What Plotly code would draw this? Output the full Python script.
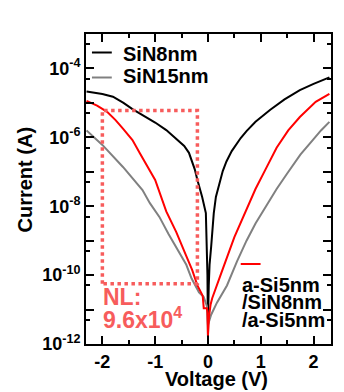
import plotly.graph_objects as go

# ---------------- data ----------------
# SiN8nm (black)
v_sin8 = [-2.3, -2.0, -1.8, -1.6, -1.43, -1.2, -1.0, -0.79, -0.6, -0.45, -0.36, -0.3, -0.25, -0.2,
          -0.11, -0.04, -0.02, -0.01, -0.004, 0.0, 0.005, 0.015, 0.03, 0.06, 0.11, 0.15, 0.24,
          0.28, 0.35, 0.45, 0.62, 0.73, 0.9, 1.18, 1.45, 1.74, 2.0, 2.3]
log_i_sin8 = [-4.67, -4.74, -4.82, -5.0, -5.18, -5.38, -5.57, -5.79, -6.05, -6.25, -6.45, -6.68, -6.93, -7.24,
              -7.73, -8.2, -9.18, -10.0, -11.0, -11.8, -11.0, -10.3, -9.7, -9.18, -8.2, -7.73, -7.24,
              -6.98, -6.7, -6.4, -6.02, -5.82, -5.55, -5.2, -4.9, -4.63, -4.45, -4.26]

# SiN15nm (gray)
v_sin15 = [-2.3, -2.0, -1.61, -1.24, -1.1, -0.92, -0.75, -0.55, -0.41, -0.31, -0.17, -0.08, -0.02,
           0.0, 0.06, 0.17, 0.36, 0.55, 0.73, 0.9, 1.1, 1.3, 1.5, 1.75, 2.0, 2.14, 2.3]
log_i_sin15 = [-5.8, -6.22, -6.86, -7.53, -7.91, -8.31, -8.8, -9.35, -9.7, -10.1, -10.5, -10.64, -10.9,
               -11.45, -11.15, -10.8, -10.3, -9.6, -9.0, -8.5, -8.0, -7.5, -7.05, -6.5, -6.05, -5.8, -5.55]

# a-Si5nm/SiN8nm/a-Si5nm (red)
v_stack = [-2.3, -2.1, -1.91, -1.75, -1.61, -1.43, -1.29, -1.0, -0.79, -0.6, -0.41, -0.3, -0.2,
           -0.13, -0.1, -0.08, -0.02, -0.01, 0.0, 0.02, 0.05, 0.08, 0.16, 0.25, 0.5, 0.7, 0.9,
           1.1, 1.3, 1.52, 1.74, 2.04, 2.3]
log_i_stack = [-4.94, -5.08, -5.26, -5.5, -5.75, -6.08, -6.46, -7.24, -8.15, -8.75, -9.45, -9.85, -10.3,
               -10.53, -10.6, -10.96, -10.96, -11.1, -11.75, -11.2, -10.85, -10.67, -10.35, -9.95, -8.9,
               -8.2, -7.5, -6.9, -6.3, -5.8, -5.41, -4.97, -4.74]

# nonlinearity box (V, log10 I)
nl_v = [-2.0, -0.2]
nl_log_i = [-5.22, -10.25]

y_decades = list(range(-12, -2))
y_label_decades = [-12, -10, -8, -6, -4]
x_ticks = [-2, -1, 0, 1, 2]

# ---------------- figure ----------------
FONT = "Liberation Sans, Arial, sans-serif"
SALMON = "#f75c5c"

fig = go.Figure()

def add_curve(v, logi, color):
    fig.add_trace(go.Scatter(x=v, y=[10 ** p for p in logi], mode="lines",
                             line=dict(color=color, width=2), showlegend=False,
                             hoverinfo="skip"))

add_curve(v_sin8, log_i_sin8, "black")
add_curve(v_sin15, log_i_sin15, "#808080")
add_curve(v_stack, log_i_stack, "#ff0000")

# NL box
bx = [nl_v[0], nl_v[0], nl_v[1], nl_v[1], nl_v[0]]
by = [nl_log_i[1], nl_log_i[0], nl_log_i[0], nl_log_i[1], nl_log_i[1]]
fig.add_trace(go.Scatter(x=bx, y=[10 ** p for p in by], mode="lines",
                         line=dict(color=SALMON, width=3.5, dash="dot"),
                         showlegend=False, hoverinfo="skip"))

# page body adds an 8px margin; compensate so the plot lands where the reference has it
OFF = 8
W, H = 344 - OFF, 392 - OFF
L, R, T, B = 86 - OFF, 11, 34 - OFF, 48
SL, SB = 86, 344            # screen position of the plot's left and bottom edges
pw, ph = 247, 310

def px(x):
    return (x - SL) / pw

def py(y):
    return (SB - y) / ph

shapes = []
for (x0, x1, yy, col) in [(92, 112, 52.5, "black"), (92, 112, 77.5, "#808080"), (242, 262, 264, "#ff0000")]:
    shapes.append(dict(type="line", xref="paper", yref="paper", x0=px(x0), x1=px(x1),
                       y0=py(yy), y1=py(yy), line=dict(color=col, width=2)))

annotations = []
def text(s, x, y, size, color="black", xanchor="left", angle=0):
    annotations.append(dict(text=s, xref="paper", yref="paper", x=px(x), y=py(y),
                            xanchor=xanchor, yanchor="middle", showarrow=False, textangle=angle,
                            font=dict(family=FONT, size=size, color=color, weight="bold")))

text("SiN8nm", 121, 54, 20)
text("SiN15nm", 121, 76, 20)
text("a-Si5nm", 241, 285, 20)
text("/SiN8nm", 241, 302, 20)
text("/a-Si5nm", 241, 320, 20)
text("NL:", 101, 297, 23, SALMON)
text("9.6x10<sup>4</sup>", 101, 318, 23, SALMON)
text("Voltage (V)", 217.5, 379, 20, xanchor="center")
text("Current (A)", 24, 180, 20, xanchor="center", angle=-90)

axis_common = dict(showline=True, linecolor="black", linewidth=2, mirror="allticks",
                   ticks="inside", tickcolor="black", tickwidth=2, ticklen=8,
                   showgrid=False, zeroline=False,
                   tickfont=dict(family=FONT, size=18, color="black", weight="bold"))

fig.update_layout(
    width=W, height=H, margin=dict(l=L, r=R, t=T, b=B),
    paper_bgcolor="white", plot_bgcolor="white",
    shapes=shapes, annotations=annotations,
    xaxis=dict(range=[-2.31, 2.33], tickvals=x_ticks, ticktext=[str(t) for t in x_ticks],
               minor=dict(ticks="inside", tickvals=[-1.5, -0.5, 0.5, 1.5], ticklen=4,
                          tickwidth=2, tickcolor="black", showgrid=False),
               **axis_common),
    yaxis=dict(type="log", range=[-12, -3],
               tickvals=[10.0 ** d for d in y_decades],
               ticktext=[("10<sup>%d</sup>" % d) if d in y_label_decades else "" for d in y_decades],
               minor=dict(ticks="inside", tickvals=[5 * 10.0 ** d for d in range(-12, -3)], ticklen=4,
                          tickwidth=2, tickcolor="black", showgrid=False),
               **axis_common),
)

fig.write_html("out.html")
